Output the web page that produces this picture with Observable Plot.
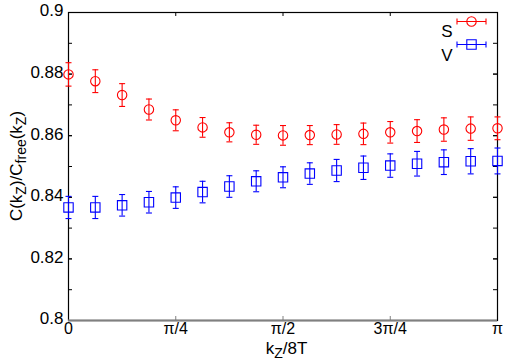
<!DOCTYPE html>
<html>
<head>
<meta charset="utf-8">
<script src="https://cdn.jsdelivr.net/npm/d3@7"></script>
<script src="https://cdn.jsdelivr.net/npm/@observablehq/plot@0.6"></script>
<style>
  html, body { margin: 0; padding: 0; background: #fff; }
  svg { font-family: "Liberation Sans", Arial, sans-serif; }
</style>
</head>
<body>
<div id="chart"></div>
<script>
// k index: x = k * pi/16
const kIndex = d3.range(17);
const sValues = [0.8799, 0.8777, 0.8732, 0.8685, 0.8650, 0.8627, 0.8611, 0.8603, 0.8601, 0.8602, 0.8604, 0.8606, 0.8611, 0.8615, 0.8620, 0.8623, 0.8624];
const sErrors = [0.0038, 0.0037, 0.0037, 0.0034, 0.0034, 0.0032, 0.0031, 0.0031, 0.0032, 0.0031, 0.0032, 0.0035, 0.0035, 0.0037, 0.0038, 0.0038, 0.0037];
const vValues = [0.8367, 0.8367, 0.8374, 0.8384, 0.8399, 0.8417, 0.8435, 0.8452, 0.8465, 0.8477, 0.8487, 0.8496, 0.8503, 0.8509, 0.8514, 0.8517, 0.8518];
const vErrors = [0.0036, 0.0036, 0.0035, 0.0035, 0.0035, 0.0035, 0.0035, 0.0034, 0.0034, 0.0035, 0.0036, 0.0038, 0.0038, 0.0040, 0.0040, 0.0041, 0.0042];
const xTickValues = [0, Math.PI / 4, Math.PI / 2, 3 * Math.PI / 4, Math.PI];
const xTickLabels = ["0", "π/4", "π/2", "3π/4", "π"];
const yTickValues = [0.8, 0.82, 0.84, 0.86, 0.88, 0.9];
const yTickLabels = ["0.8", "0.82", "0.84", "0.86", "0.88", "0.9"];
const yMinorTicks = d3.range(1, 10).map(i => 0.8 + i * 0.01);
const seriesNames = ["S", "V"];
const seriesColors = ["#ff0000", "#0000ff"];

const S = kIndex.map((k, i) => ({x: k * Math.PI / 16, y: sValues[i], e: sErrors[i]}));
const V = kIndex.map((k, i) => ({x: k * Math.PI / 16, y: vValues[i], e: vErrors[i]}));

const W = 514, H = 364, ML = 68, MR = 17, MT = 12, MB = 44;
const PW = W - ML - MR, PH = H - MT - MB, TL = 4;

const capSymbol = {draw(ctx, size) { const r = Math.sqrt(size / Math.PI); ctx.moveTo(-r, 0); ctx.lineTo(r, 0); }};
const legendSample = (inner) => ({draw(ctx) {
  const r = 14.5;
  ctx.moveTo(-r, 0); ctx.lineTo(r, 0);
  ctx.moveTo(-r, -3); ctx.lineTo(-r, 3);
  ctx.moveTo(r, -3); ctx.lineTo(r, 3);
  inner(ctx);
}});
const legendCircle = legendSample(ctx => { ctx.moveTo(4.7, 0); ctx.arc(0, 0, 4.7, 0, 2 * Math.PI); });
const legendSquare = legendSample(ctx => { ctx.rect(-4.7, -4.7, 9.4, 9.4); });

function seriesMarks(data, color, symbol, r) {
  return [
    Plot.ruleX(data, {x: "x", y1: d => d.y - d.e, y2: d => d.y + d.e, stroke: color, strokeWidth: 1.1}),
    Plot.dot(data, {x: "x", y: d => d.y - d.e, symbol: capSymbol, r: 3, stroke: color, strokeWidth: 1.1}),
    Plot.dot(data, {x: "x", y: d => d.y + d.e, symbol: capSymbol, r: 3, stroke: color, strokeWidth: 1.1}),
    Plot.dot(data, {x: "x", y: "y", symbol, r, stroke: color, fill: "none", strokeWidth: 1.1})
  ];
}

const allYTicks = yTickValues.concat(yMinorTicks);

const chart = Plot.plot({
  width: W,
  height: H,
  marginLeft: ML,
  marginRight: MR,
  marginTop: MT,
  marginBottom: MB,
  style: {fontFamily: "Liberation Sans, Arial, sans-serif", fontSize: "17px", color: "#000", background: "#fff"},
  x: {domain: [0, Math.PI]},
  y: {domain: [0.8, 0.9]},
  marks: [
    Plot.axisY({anchor: "left", ticks: yTickValues, tickSize: 0, tickPadding: 5, tickFormat: (d, i) => yTickLabels[i], label: null, fontSize: 17, dy: -1.5}),
    Plot.axisX({anchor: "bottom", ticks: xTickValues, tickSize: 0, tickPadding: 2, tickFormat: (d, i) => xTickLabels[i], label: null, fontSize: 16}),
    // inward tick marks
    Plot.tickY(allYTicks, {y: d => d, insetRight: PW - TL, stroke: "#000", strokeWidth: 1}),
    Plot.tickY(allYTicks, {y: d => d, insetLeft: PW - TL, stroke: "#000", strokeWidth: 1}),
    Plot.tickX(xTickValues, {x: d => d, insetBottom: PH - TL, stroke: "#000", strokeWidth: 1}),
    Plot.tickX(xTickValues, {x: d => d, insetTop: PH - TL, stroke: "#808080", strokeWidth: 1}),
    Plot.frame({stroke: "#000", strokeWidth: 1.2}),
    Plot.ruleY([0.8], {stroke: "#808080", strokeWidth: 2}),
    ...seriesMarks(S, seriesColors[0], "circle", 4.7),
    ...seriesMarks(V, seriesColors[1], "square", 5.3),
    Plot.text([seriesNames[0]], {frameAnchor: "top-right", dx: -45, dy: 12, textAnchor: "end", fontSize: 17, fill: "#000"}),
    Plot.text([seriesNames[1]], {frameAnchor: "top-right", dx: -45, dy: 36, textAnchor: "end", fontSize: 17, fill: "#000"}),
    Plot.dot([0], {frameAnchor: "top-right", dx: -26, dy: 9, symbol: legendCircle, r: 3, stroke: seriesColors[0], fill: "none", strokeWidth: 1.1}),
    Plot.dot([0], {frameAnchor: "top-right", dx: -26, dy: 32, symbol: legendSquare, r: 3, stroke: seriesColors[1], fill: "none", strokeWidth: 1.1})
  ]
});

document.getElementById("chart").appendChild(chart);

// Axis titles with subscripts
const svg = d3.select(chart);
const xs = chart.scale("x"), ys = chart.scale("y");
const cx = (xs.range[0] + xs.range[1]) / 2;
const cy = (ys.range[0] + ys.range[1]) / 2;

const xl = svg.append("text").attr("x", cx + 4).attr("y", 354).attr("text-anchor", "middle")
  .attr("font-size", 17).attr("fill", "#000");
xl.append("tspan").text("k");
xl.append("tspan").attr("dy", 4).attr("font-size", 14).text("Z");
xl.append("tspan").attr("dy", -4).text("/8T");

const yl = svg.append("text").attr("transform", `translate(22,${cy}) rotate(-90)`).attr("text-anchor", "middle")
  .attr("font-size", 17).attr("fill", "#000");
yl.append("tspan").text("C(k");
yl.append("tspan").attr("dy", 4).attr("font-size", 14).text("Z");
yl.append("tspan").attr("dy", -4).text(")/C");
yl.append("tspan").attr("dy", 4).attr("font-size", 14).text("free");
yl.append("tspan").attr("dy", -4).text("(k");
yl.append("tspan").attr("dy", 4).attr("font-size", 14).text("Z");
yl.append("tspan").attr("dy", -4).text(")");
</script>
</body>
</html>
